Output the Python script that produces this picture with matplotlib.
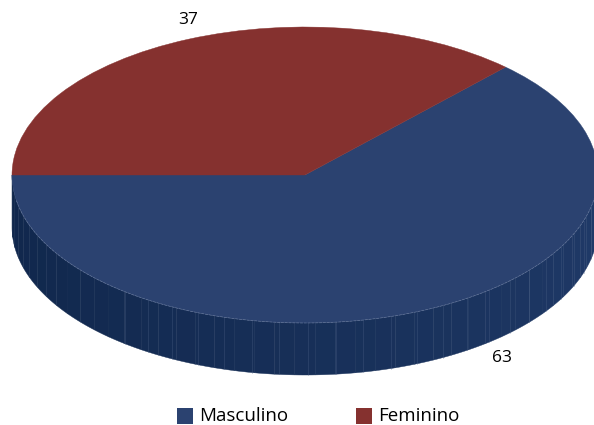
import numpy as np
import matplotlib
matplotlib.use("Agg")
import matplotlib.pyplot as plt
from matplotlib.patches import Wedge, Polygon, Rectangle
from matplotlib.transforms import Affine2D
import matplotlib.colors as mcolors

categories = ["Masculino", "Feminino"]
values = [63, 37]
labels = ["63", "37"]
colors = ["#2B4270", "#85312F"]

W, H = 594, 425
fig = plt.figure(figsize=(W / 100, H / 100), dpi=100)
ax = fig.add_axes([0, 0, 1, 1])
ax.set_xlim(0, W)
ax.set_ylim(H, 0)
ax.axis("off")

cx, cy, a, b, depth = 305, 175, 293, 148, 52
font = "Open Sans"

ell = Affine2D().scale(a, -b).translate(cx, cy) + ax.transData

def pt(t):
    r = np.radians(t)
    return cx + a * np.cos(r), cy - b * np.sin(r)

total = sum(values)
start = 180.0
angles = []
for v in values:
    span = 360.0 * v / total
    angles.append((start, start + span))
    start += span

# side walls (front half: 180..360)
base_dark = np.array(mcolors.to_rgb("#10274C"))
base_light = np.array(mcolors.to_rgb("#213B6A"))
red_dark = np.array(mcolors.to_rgb("#5E2220"))
for i, (t1, t2) in enumerate(angles):
    for off in (0, 360):
        lo = max(t1, 180 + off) - off
        hi = min(t2, 360 + off) - off
        if hi <= lo:
            continue
        nseg = max(2, int((hi - lo) / 4))
        ts = np.linspace(lo, hi, nseg + 1)
        for k in range(nseg):
            s1, s2 = ts[k], ts[k + 1]
            f = ((s1 + s2) / 2 - 180) / 180
            if i == 0:
                c = base_dark + (base_light - base_dark) * f ** 1.3
            else:
                c = red_dark
            tt = np.linspace(s1, s2, 6)
            xs = [pt(t)[0] for t in tt]
            ys = [pt(t)[1] for t in tt]
            poly = list(zip(xs, ys)) + list(zip(xs[::-1], [y + depth for y in ys[::-1]]))
            ax.add_patch(Polygon(poly, closed=True, facecolor=c, edgecolor=c, lw=0.3))
        # faint facet lines
        for t in np.arange(lo + 52, hi - 5, 5.5):
            x, y = pt(t)
            ax.plot([x, x], [y, y + depth], color="#4F6388", lw=0.5, alpha=0.45)

# top faces
for (t1, t2), c in zip(angles, colors):
    ax.add_patch(Wedge((0, 0), 1, t1, t2, facecolor=c, edgecolor=c, lw=0.3, transform=ell))

# rim highlight
tt = np.linspace(190, 356, 200)
ax.plot([pt(t)[0] for t in tt], [pt(t)[1] for t in tt], color="#8090B0", lw=0.5,
        alpha=0.6, ls=(0, (4, 1.5)))

# data labels
label_pos = [(502, 358), (188, 20)]
for lab, (x, y) in zip(labels, label_pos):
    ax.text(x, y, lab, ha="center", va="center", fontsize=12.5, family=font, color="black")

# legend
leg_x = [177, 356]
for cat, c, x in zip(categories, colors, leg_x):
    ax.add_patch(Rectangle((x, 408), 16, 16, facecolor=c, edgecolor="none"))
    ax.text(x + 22, 416, cat, ha="left", va="center", fontsize=13.5, family=font, color="black")

fig.savefig("out.png", dpi=100)
